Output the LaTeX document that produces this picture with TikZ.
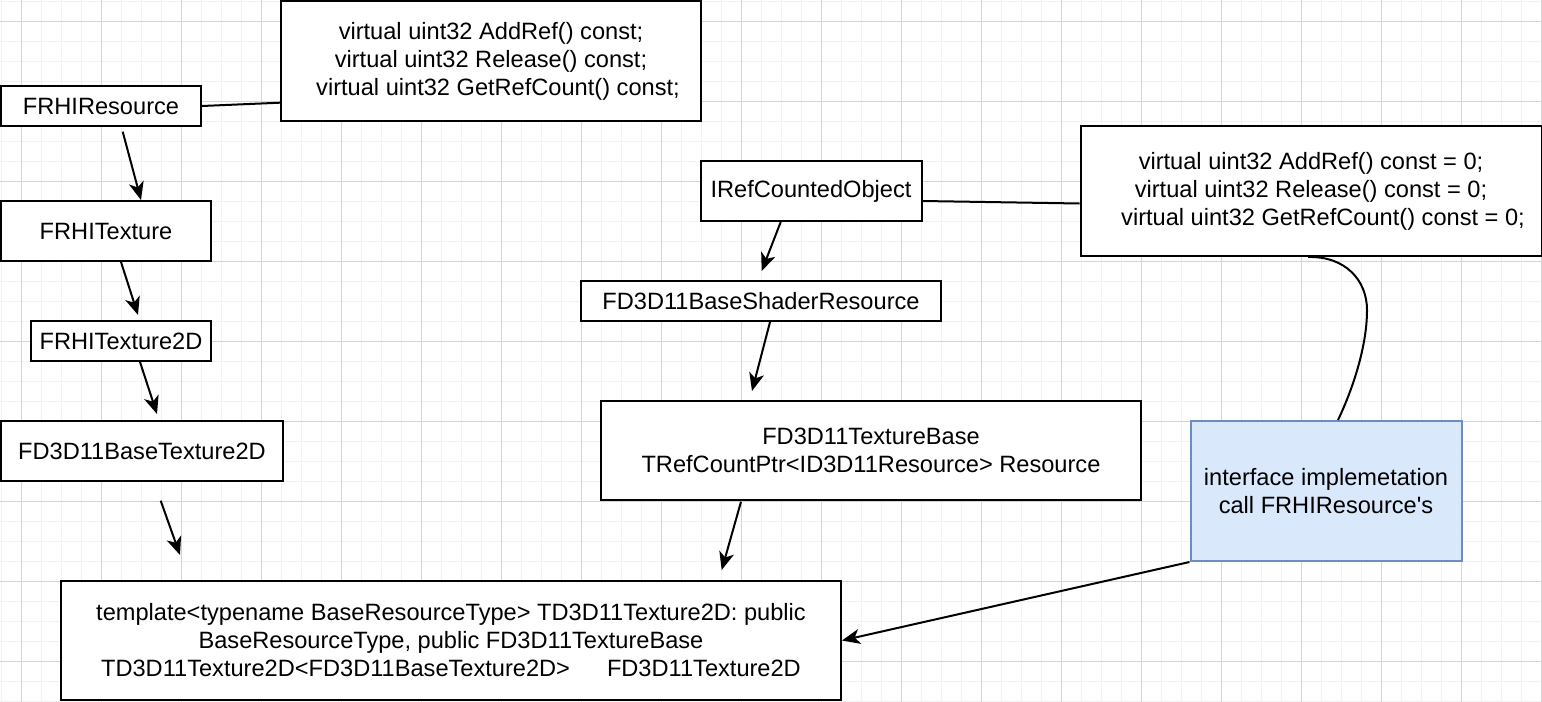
\documentclass[tikz,border=0pt]{standalone}
\usepackage{fontspec}
\setmainfont{Liberation Sans}[Ligatures=TeXOff]
\usetikzlibrary{arrows.meta}

\definecolor{gridminor}{RGB}{242,242,242}
\definecolor{gridmajor}{RGB}{212,212,212}
\definecolor{notefill}{RGB}{218,232,252}
\definecolor{notedraw}{RGB}{108,142,191}

\tikzset{
  cls/.style={draw,line width=2bp,fill=white,inner sep=0pt,align=center},
  note/.style={cls,draw=notedraw,fill=notefill},
  arr/.style={-{Stealth[length=18bp,width=15bp,inset=5bp]},line width=2bp},
  link/.style={line width=2bp},
}

\begin{document}
\begin{tikzpicture}[x=1bp,y=-1bp,every node/.append style={font=\fontsize{23.7}{28.1}\selectfont}]
      \useasboundingbox (0,0) rectangle (1542,702);
      \fill[white] (0,0) rectangle (1542,702);

      % grid
      \foreach \g in {1.7,21.7,...,1541.7} \draw[gridminor,line width=1bp] (\g,0)--(\g,702);
      \foreach \g in {1.7,21.7,...,701.7} \draw[gridminor,line width=1bp] (0,\g)--(1542,\g);
      \foreach \g in {21.7,101.7,...,1541.7} \draw[gridmajor,line width=1bp] (\g,0)--(\g,702);
      \foreach \g in {21.7,101.7,...,661.7} \draw[gridmajor,line width=1bp] (0,\g)--(1542,\g);

      % left column
      \node[cls,minimum width=200bp,minimum height=40bp] (res) at (101,106) {FRHIResource};
      \node[cls,minimum width=420bp,minimum height=120bp] (vr) at (491,61)
        {virtual uint32 AddRef() const;\\virtual uint32 Release() const;\\\hspace*{14bp}virtual uint32 GetRefCount() const;};
      \node[cls,minimum width=210bp,minimum height=60bp] (tex) at (106,231) {FRHITexture};
      \node[cls,minimum width=180bp,minimum height=40bp] (tex2d) at (121,341) {FRHITexture2D};
      \node[cls,minimum width=282bp,minimum height=60bp] (base2d) at (142,451) {FD3D11BaseTexture2D};
      \node[cls,minimum width=780bp,minimum height=119bp] (tpl) at (451,640.5)
        {template<typename BaseResourceType> TD3D11Texture2D: public\\BaseResourceType, public FD3D11TextureBase\\TD3D11Texture2D<FD3D11BaseTexture2D>\hspace{37bp}FD3D11Texture2D};

      % right part
      \node[cls,minimum width=221bp,minimum height=60bp] (rco) at (811,191) {IRefCountedObject};
      \node[cls,minimum width=461bp,minimum height=130bp] (vz) at (1311,191)
        {virtual uint32 AddRef() const = 0;\\virtual uint32 Release() const = 0;\\\hspace*{24bp}virtual uint32 GetRefCount() const = 0;};
      \node[cls,minimum width=360bp,minimum height=40bp] (shres) at (761,301) {FD3D11BaseShaderResource};
      \node[cls,minimum width=540bp,minimum height=99bp] (texbase) at (871,450.5)
        {FD3D11TextureBase\\TRefCountPtr<ID3D11Resource> Resource};
      \node[note,minimum width=271bp,minimum height=140bp] (impl) at (1326,491)
        {interface implemetation\\call FRHIResource's};

      % loose arrow ends
      \coordinate (r1) at (122.7,131.7);  \coordinate (t1) at (141,200);
      \coordinate (r2) at (121,262);      \coordinate (t2) at (138,315);
      \coordinate (r3) at (140,362);      \coordinate (t3) at (157,414);
      \coordinate (r4) at (160.7,500.7);  \coordinate (t4) at (180,555);
      \coordinate (r5) at (780.7,222);    \coordinate (t5) at (761.7,271);
      \coordinate (r6) at (770,322);      \coordinate (t6) at (752,391);
      \coordinate (r7) at (741,501.7);    \coordinate (t7) at (721.7,570);

      \draw[arr] (r1)--(t1);
      \draw[arr] (r2)--(t2);
      \draw[arr] (r3)--(t3);
      \draw[arr] (r4)--(t4);
      \draw[arr] (r5)--(t5);
      \draw[arr] (r6)--(t6);
      \draw[arr] (r7)--(t7);

      % links to the method boxes
      \draw[link] (res.east)--([yshift=-41.7bp]vr.west);
      \draw[link] ([yshift=-10bp]rco.east)--([yshift=-12.5bp]vz.west);
      \draw[link] ([xshift=-3bp]vz.south) .. controls (1345,256) and (1367,280) .. (1367,310)
                  .. controls (1367,350) and (1350,395) .. ([xshift=12bp]impl.north);
      \draw[arr] (impl.south west)--(tpl.east);
    \end{tikzpicture}
\end{document}
